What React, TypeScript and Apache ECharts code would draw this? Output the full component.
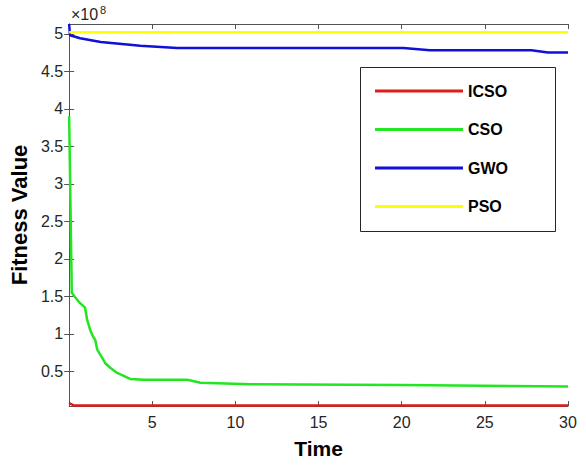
import React, { useEffect, useRef } from "react";
import * as echarts from "echarts";

// Data (fitness values in units of 1e8)
const icsoT = [0, 0.3, 30];
const icsoV = [0.08, 0.045, 0.045];

const csoT = [0, 0.16, 0.36, 0.66, 0.96, 1.08, 1.27, 1.45, 1.57, 1.69, 1.99, 2.17, 2.47, 2.89, 3.67, 4.46, 7.1, 7.9, 10.9, 20, 30];
const csoV = [3.9, 1.55, 1.49, 1.41, 1.35, 1.19, 1.05, 0.96, 0.92, 0.79, 0.68, 0.61, 0.55, 0.48, 0.4, 0.39, 0.39, 0.35, 0.33, 0.32, 0.3];

const gwoT = [0, 0.05, 0.66, 1.9, 4.28, 6.5, 20.1, 21.7, 27.8, 28.8, 30];
const gwoV = [5.13, 4.98, 4.94, 4.89, 4.84, 4.81, 4.81, 4.78, 4.78, 4.75, 4.75];

const psoT = [0, 30];
const psoV = [5.02, 5.02];

const seriesNames = ["ICSO", "CSO", "GWO", "PSO"];
const seriesColors = ["#e01b1b", "#22e622", "#1010d8", "#ffff00"];

const xTicks = [5, 10, 15, 20, 25, 30];
const yTicks = [0.5, 1, 1.5, 2, 2.5, 3, 3.5, 4, 4.5, 5];

const FONT = "'Liberation Sans', Arial, Helvetica, sans-serif";
const AXIS_COLOR = "#555555";
const LABEL_COLOR = "#262626";

function zip(t: number[], v: number[]) {
  return t.map((x, i) => [x, v[i]]);
}

export default function App() {
  const ref = useRef<HTMLDivElement>(null);
  useEffect(() => {
    if (!ref.current) return;
    const chart = echarts.init(ref.current, undefined, { renderer: "svg" });
    const seriesData = [zip(icsoT, icsoV), zip(csoT, csoV), zip(gwoT, gwoV), zip(psoT, psoV)];
    const axisLine = { show: true, lineStyle: { color: AXIS_COLOR, width: 1 } };
    chart.setOption({
      animation: false,
      backgroundColor: "#ffffff",
      grid: { left: 69, right: 18, top: 24, bottom: 59 },
      xAxis: [
        {
          type: "value",
          min: 0,
          max: 30,
          position: "bottom",
          axisLine,
          axisTick: { show: true, inside: true, length: 5, customValues: xTicks, lineStyle: { color: AXIS_COLOR } },
          axisLabel: { show: true, customValues: xTicks, margin: 8, color: LABEL_COLOR, fontSize: 16, fontFamily: FONT },
          splitLine: { show: false },
          name: "Time",
          nameLocation: "middle",
          nameGap: 32,
          nameTextStyle: { fontSize: 21, fontWeight: "bold", color: "#000", fontFamily: FONT },
        },
        {
          type: "value",
          min: 0,
          max: 30,
          position: "top",
          axisLine,
          axisTick: { show: true, inside: true, length: 5, customValues: xTicks, lineStyle: { color: AXIS_COLOR } },
          axisLabel: { show: false },
          splitLine: { show: false },
        },
      ],
      yAxis: [
        {
          type: "value",
          min: 0.04,
          max: 5.13,
          position: "left",
          axisLine,
          axisTick: { show: true, inside: true, length: 5, customValues: yTicks, lineStyle: { color: AXIS_COLOR } },
          axisLabel: { show: true, customValues: yTicks, margin: 6, color: LABEL_COLOR, fontSize: 16, fontFamily: FONT },
          splitLine: { show: false },
          name: "Fitness Value",
          nameLocation: "middle",
          nameRotate: 90,
          nameGap: 32,
          nameTextStyle: { fontSize: 22, fontWeight: "bold", color: "#000", fontFamily: FONT },
        },
        {
          type: "value",
          min: 0.04,
          max: 5.13,
          position: "right",
          axisLine,
          axisTick: { show: true, inside: true, length: 5, customValues: yTicks, lineStyle: { color: AXIS_COLOR } },
          axisLabel: { show: false },
          splitLine: { show: false },
        },
      ],
      legend: {
        show: true,
        orient: "vertical",
        left: 375,
        top: 81,
        padding: 0,
        itemWidth: 88,
        itemHeight: 3,
        itemGap: 18.5,
        icon: "rect",
        selectedMode: false,
        data: seriesNames,
        textStyle: { fontSize: 16, fontWeight: "bold", color: "#000", fontFamily: FONT, lineHeight: 20 },
      },
      graphic: [
        {
          type: "rect",
          z: 3,
          shape: { x: 360.5, y: 67.5, width: 195, height: 164 },
          style: { fill: "#ffffff", stroke: "#262626", lineWidth: 1 },
        },
        {
          type: "text",
          z: 10,
          x: 71,
          y: 14.5,
          style: { text: "×10", fontSize: 16, fill: LABEL_COLOR, fontFamily: FONT, verticalAlign: "middle", align: "left" },
        },
        {
          type: "text",
          z: 10,
          x: 100,
          y: 10,
          style: { text: "8", fontSize: 11, fill: LABEL_COLOR, fontFamily: FONT, verticalAlign: "middle", align: "left" },
        },
      ],
      series: seriesNames.map((name, i) => ({
        name,
        type: "line",
        xAxisIndex: 0,
        yAxisIndex: 0,
        data: seriesData[i],
        symbol: "none",
        showSymbol: false,
        color: seriesColors[i],
        lineStyle: { color: seriesColors[i], width: 2.5 },
        z: 2,
      })),
    });
    return () => chart.dispose();
  }, []);
  return (
    <div
      ref={ref}
      style={{ position: "fixed", left: 0, top: 0, width: 586, height: 465, background: "#fff" }}
    />
  );
}
